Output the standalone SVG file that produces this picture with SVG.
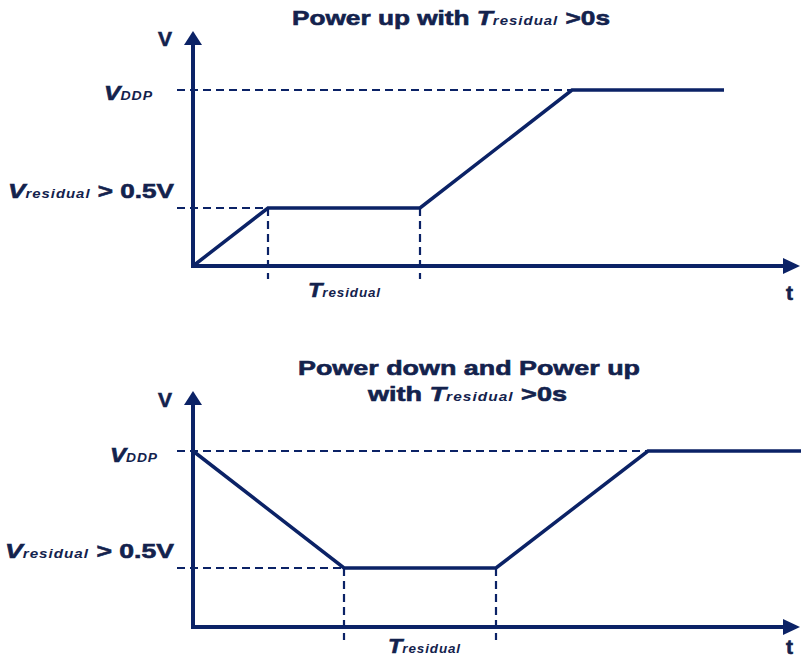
<svg xmlns="http://www.w3.org/2000/svg" width="801" height="658" viewBox="0 0 801 658">
<style>
.ax{stroke:#0b2266;stroke-width:4;fill:none}
.sig{stroke:#0b2266;stroke-width:3.5;fill:none;stroke-linejoin:miter}
.dash{stroke:#0b2266;stroke-width:2.2;fill:none;stroke-dasharray:8,5}
.head{fill:#0b2266}
text{font-family:"Liberation Sans",Arial,sans-serif;font-weight:bold;fill:#13224d;stroke:#13224d;stroke-width:0.6}
.big{font-size:21px}
.it{font-style:italic}
.sub{font-size:12px;font-style:italic;stroke-width:0;letter-spacing:0.8px}
</style>
<rect width="801" height="658" fill="#ffffff"/>
<g id="chart1">
  <g id="axes1">
    <line class="ax" x1="193" y1="42" x2="193" y2="268"/>
    <line class="ax" x1="191" y1="266" x2="785" y2="266"/>
    <polygon class="head" points="193,31 184,45 202,45"/>
    <polygon class="head" points="800,266 783,258 783,274"/>
  </g>
  <g id="guides1">
    <line class="dash" x1="177" y1="90" x2="572" y2="90"/>
    <line class="dash" x1="177" y1="208" x2="268" y2="208"/>
    <line class="dash" x1="268" y1="208" x2="268" y2="279"/>
    <line class="dash" x1="420" y1="208" x2="420" y2="279"/>
  </g>
  <g id="signal1">
    <polyline class="sig" points="193,266 268,208 420,208 572,90 724,90"/>
  </g>
  <g id="labels1">
    <text x="292" y="25" class="big" textLength="318" lengthAdjust="spacingAndGlyphs">Power up with <tspan class="it">T</tspan><tspan class="sub">residual</tspan>  &gt;0s</text>
    <text x="158" y="46" class="big">V</text>
    <text x="104" y="100" textLength="49" lengthAdjust="spacingAndGlyphs"><tspan class="big it">V</tspan><tspan class="sub">DDP</tspan></text>
    <text x="8" y="198" textLength="166" lengthAdjust="spacingAndGlyphs"><tspan class="big it">V</tspan><tspan class="sub">residual</tspan><tspan class="big">  &gt; 0.5V</tspan></text>
    <text x="308" y="297" textLength="73" lengthAdjust="spacingAndGlyphs"><tspan class="big it">T</tspan><tspan class="sub">residual</tspan></text>
    <text x="786" y="300" class="big">t</text>
  </g>
</g>
<g id="chart2">
  <g id="axes2">
    <line class="ax" x1="193" y1="402" x2="193" y2="629"/>
    <line class="ax" x1="191" y1="627" x2="785" y2="627"/>
    <polygon class="head" points="193,391 184,405 202,405"/>
    <polygon class="head" points="800,627 783,619 783,635"/>
  </g>
  <g id="guides2">
    <line class="dash" x1="177" y1="451" x2="648" y2="451"/>
    <line class="dash" x1="177" y1="568" x2="344" y2="568"/>
    <line class="dash" x1="344" y1="568" x2="344" y2="640"/>
    <line class="dash" x1="496" y1="568" x2="496" y2="640"/>
  </g>
  <g id="signal2">
    <polyline class="sig" points="193,451 344,568 496,568 648,451 801,451"/>
  </g>
  <g id="labels2">
    <text x="298" y="375" class="big" textLength="342" lengthAdjust="spacingAndGlyphs">Power down and Power up</text>
    <text x="368" y="401" class="big" textLength="199" lengthAdjust="spacingAndGlyphs">with  <tspan class="it">T</tspan><tspan class="sub">residual</tspan> &gt;0s</text>
    <text x="158" y="407" class="big">V</text>
    <text x="110" y="462" textLength="48" lengthAdjust="spacingAndGlyphs"><tspan class="big it">V</tspan><tspan class="sub">DDP</tspan></text>
    <text x="5" y="558" textLength="169" lengthAdjust="spacingAndGlyphs"><tspan class="big it">V</tspan><tspan class="sub">residual</tspan><tspan class="big">  &gt; 0.5V</tspan></text>
    <text x="388" y="653" textLength="73" lengthAdjust="spacingAndGlyphs"><tspan class="big it">T</tspan><tspan class="sub">residual</tspan></text>
    <text x="786" y="654" class="big">t</text>
  </g>
</g>
</svg>
